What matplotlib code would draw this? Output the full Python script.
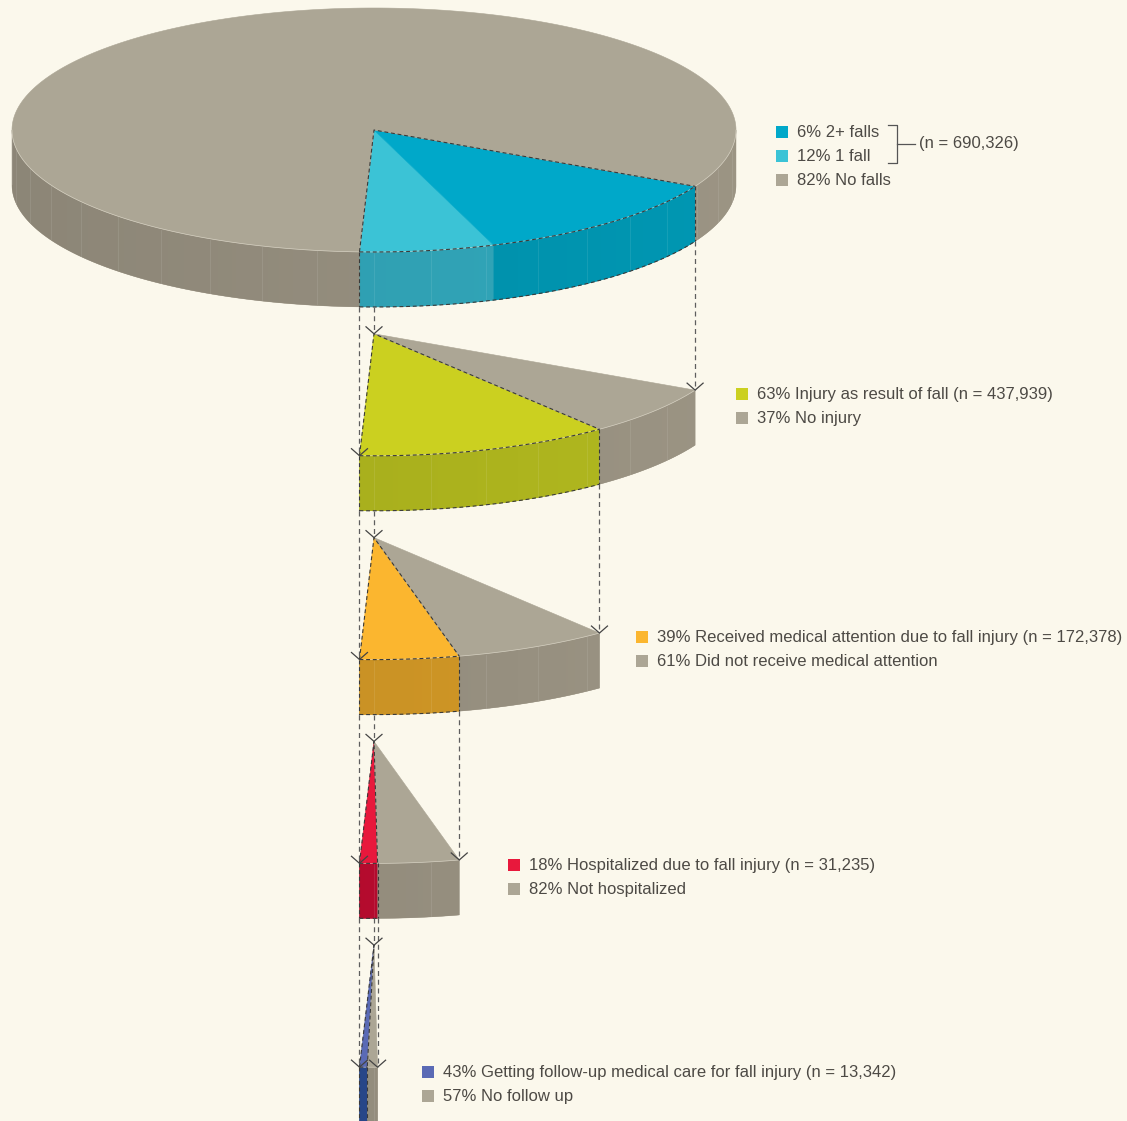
import numpy as np
import matplotlib.pyplot as plt
from matplotlib.patches import Polygon, Rectangle

# ---- data ----
fall_pct = [6, 12, 82]
fall_labels = ['2+ falls', '1 fall', 'No falls']
fall_n = '690,326'

injury_pct = [63, 37]
injury_labels = ['Injury as result of fall (n = 437,939)', 'No injury']

medical_pct = [39, 61]
medical_labels = ['Received medical attention due to fall injury (n = 172,378)',
                  'Did not receive medical attention']

hosp_pct = [18, 82]
hosp_labels = ['Hospitalized due to fall injury (n = 31,235)', 'Not hospitalized']

followup_pct = [43, 57]
followup_labels = ['Getting follow-up medical care for fall injury (n = 13,342)', 'No follow up']

# ---- colours ----
bg = '#fbf8ec'
grey_top = (172, 166, 149)
grey_side = (151, 144, 128)
txt_col = '#4d4a45'

# drawing colours (top face, side face) in slice order starting at the front
level_top_cols = [
    [(59, 195, 214), (0, 168, 201), grey_top],
    [(203, 208, 32), grey_top],
    [(251, 182, 47), grey_top],
    [(232, 24, 60), grey_top],
    [(90, 106, 181), grey_top],
]
level_side_cols = [
    [(49, 164, 183), (0, 147, 174), grey_side],
    [(173, 180, 30), grey_side],
    [(207, 150, 38), grey_side],
    [(184, 12, 47), grey_side],
    [(40, 72, 140), grey_side],
]
levels = [fall_pct, injury_pct, medical_pct, hosp_pct, followup_pct]
n_highlight = [2, 1, 1, 1, 1]

# ---- geometry (pixels) ----
W, H = 1127, 1121
cx, rx, ry, depth = 374, 362, 122, 55
cy0, step = 130, 203.8
t_start = -92.3


def hexc(c, f=1.0):
    return tuple(min(1.0, max(0.0, v * f / 255.0)) for v in c)


def pt(t, cy, dy=0):
    r = np.radians(t)
    return cx + rx * np.cos(r), cy - ry * np.sin(r) + dy


def arc(t0, t1, cy, dy=0):
    n = max(int(abs(t1 - t0) * 2) + 2, 2)
    ts = np.radians(np.linspace(t0, t1, n))
    return cx + rx * np.cos(ts), cy - ry * np.sin(ts) + dy


def visible(a, b):
    out = []
    for k in (-1, 0, 1):
        lo, hi = max(a, -180 + 360 * k), min(b, 360 * k)
        if hi > lo:
            out.append((lo, hi))
    return out


fig = plt.figure(figsize=(W / 100, H / 100), dpi=100)
fig.patch.set_facecolor(bg)
ax = fig.add_axes([0, 0, 1, 1])
ax.set_facecolor(bg)

# horizontal shading of the side walls, darker on the left
gx = np.linspace(cx - rx, cx + rx, 300)
gshade = 0.93 + 0.10 * (gx - gx[0]) / (gx[-1] - gx[0])

span = 360.0
hl_ends = []
for k, pcts in enumerate(levels):
    cy = cy0 + step * k
    edges = t_start + span * np.concatenate([[0], np.cumsum(pcts)]) / 100.0
    # side faces
    for i in range(len(pcts)):
        a, b = edges[i], edges[i + 1]
        for lo, hi in visible(a, b):
            xs, ys = arc(lo, hi, cy)
            poly = list(zip(xs, ys)) + list(zip(xs[::-1], ys[::-1] + depth))
            base = level_side_cols[k][i]
            patch = Polygon(poly, closed=True, facecolor=hexc(base), edgecolor=hexc(base),
                            lw=0.3, zorder=2)
            ax.add_patch(patch)
            img = np.array([[hexc(base, f) for f in gshade]] * 2)
            im = ax.imshow(img, extent=(gx[0], gx[-1], cy + ry + depth + 2, cy - ry - 2),
                           aspect='auto', zorder=2.1, interpolation='bilinear')
            im.set_clip_path(patch)
            # a few faint facet lines on the side
            for t in np.arange(np.ceil(lo / 9) * 9, hi, 9):
                x, y = pt(t, cy)
                ax.plot([x, x], [y + 1, y + depth - 1], color='white', alpha=0.1, lw=0.6, zorder=2.5)
    # top faces
    for i in range(len(pcts)):
        a, b = edges[i], edges[i + 1]
        xs, ys = arc(a, b, cy)
        poly = [(cx, cy)] + list(zip(xs, ys))
        col = hexc(level_top_cols[k][i])
        ax.add_patch(Polygon(poly, closed=True, facecolor=col, edgecolor=col, lw=0.4, zorder=3))
    # light rim along the front top edge
    for lo, hi in visible(edges[0], edges[-1]):
        xs, ys = arc(lo, hi, cy)
        ax.plot(xs, ys, color='#e6e1d3', lw=0.5, alpha=0.7, zorder=3.5)

    # dashed outline of the highlighted part
    t0, t1 = edges[0], edges[n_highlight[k]]
    hl_ends.append(t1)
    dash = dict(color='#3a3a3a', lw=0.8, ls=(0, (3.5, 2.5)), zorder=5)
    x0, y0 = pt(t0, cy)
    x1, y1 = pt(t1, cy)
    ax.plot([x0, cx, x1], [y0, cy, y1], **dash)
    xs, ys = arc(t0, t1, cy)
    ax.plot(xs, ys, **dash)
    xs, ys = arc(t0, t1, cy, depth)
    ax.plot(xs, ys, **dash)
    ax.plot([x0, x0], [y0, y0 + depth], **dash)
    ax.plot([x1, x1], [y1, y1 + depth], **dash)

    span = t1 - t0


# connectors between the levels
def vmark(x, y):
    ax.plot([x - 8, x, x + 8], [y - 7, y, y - 7], color='#444444', lw=0.9, zorder=6)


con = dict(color='#5e5e5e', lw=0.9, ls=(0, (4, 3)), zorder=5)
for k in range(len(levels) - 1):
    cy = cy0 + step * k
    cyn = cy0 + step * (k + 1)
    for t in (t_start, hl_ends[k]):
        x, y = pt(t, cy, depth)
        _, yn = pt(t, cyn)
        ax.plot([x, x], [y, yn], **con)
        vmark(x, yn)
    ax.plot([cx, cx], [cy + ry + depth, cyn], **con)
    vmark(cx, cyn)

# ---- legends ----
fs = 12
font = 'Liberation Sans'


def legend(x_sq, y_first, cols, texts):
    for j, (c, s) in enumerate(zip(cols, texts)):
        y = y_first + 24 * j
        ax.add_patch(Rectangle((x_sq, y - 6), 12, 12, facecolor=hexc(c), edgecolor='none', zorder=7))
        ax.text(x_sq + 21, y + 0.5, s, fontsize=fs, family=font, color=txt_col, va='center', ha='left')


legend(776, 132, [(0, 168, 201), (59, 195, 214), grey_top],
       [f'{p}% {l}' for p, l in zip(fall_pct, fall_labels)])
ax.plot([888, 897, 897, 888], [125, 125, 163, 163], color='#555555', lw=0.9)
ax.plot([897, 915], [144, 144], color='#555555', lw=0.9)
ax.text(919, 143.5, f'(n = {fall_n})', fontsize=fs, family=font, color=txt_col, va='center')

legend(736, 394, [(203, 208, 32), grey_top], [f'{p}% {l}' for p, l in zip(injury_pct, injury_labels)])
legend(636, 637, [(251, 182, 47), grey_top], [f'{p}% {l}' for p, l in zip(medical_pct, medical_labels)])
legend(508, 865, [(232, 24, 60), grey_top], [f'{p}% {l}' for p, l in zip(hosp_pct, hosp_labels)])
legend(422, 1072, [(90, 106, 181), grey_top], [f'{p}% {l}' for p, l in zip(followup_pct, followup_labels)])

ax.set_xlim(0, W)
ax.set_ylim(H, 0)
ax.axis('off')
fig.savefig('out.png', dpi=100, facecolor=bg)
